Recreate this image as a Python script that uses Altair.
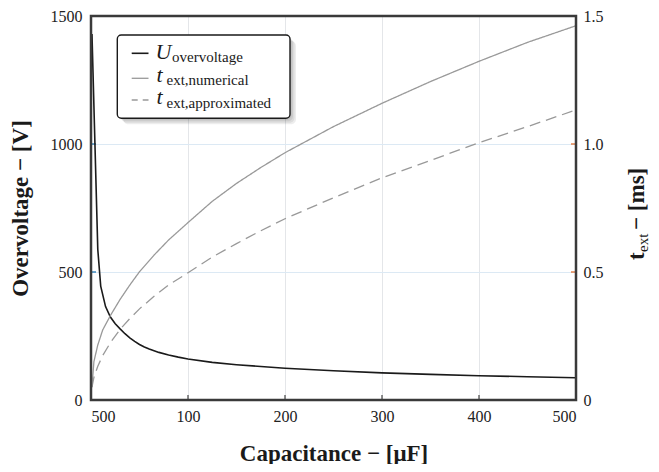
import altair as alt
import pandas as pd

# ---- data ----
cap_u = [1, 7, 10, 15, 20, 25, 30, 35, 40, 45, 50, 55, 60, 70, 80, 90, 100, 125, 150, 200, 250,
         300, 350, 400, 450, 500]
u_over = [1430, 588, 445, 365, 324, 298, 278, 259, 243, 229, 217, 207, 199, 186, 176, 167.5, 160,
          147, 138, 124, 114, 106, 100, 95, 91, 87]

cap_t = [1, 3, 7, 12, 20, 30, 40, 50, 65, 80, 100, 125, 150, 175, 200, 250, 300, 350, 400, 450, 500]
t_num = [0.05, 0.15, 0.215, 0.273, 0.33, 0.393, 0.449, 0.501, 0.566, 0.625, 0.693, 0.776, 0.846,
         0.908, 0.966, 1.068, 1.159, 1.244, 1.323, 1.397, 1.462]
t_app = [0.05, 0.088, 0.132, 0.173, 0.224, 0.276, 0.318, 0.356, 0.405, 0.449, 0.497, 0.558, 0.611,
         0.661, 0.708, 0.79, 0.868, 0.936, 1.005, 1.068, 1.133]

x_ticks = [0, 100, 200, 300, 400, 500]
u_ticks = [0, 500, 1000, 1500]
t_ticks = [0, 0.5, 1.0, 1.5]

W, H = 485, 384
FONT = "Liberation Serif"
INK = "#1a1a1a"

df_u = pd.DataFrame({"C": cap_u, "U": u_over})
df_t = pd.concat([
    pd.DataFrame({"C": cap_t, "t": t_num, "s": "num"}),
    pd.DataFrame({"C": cap_t, "t": t_app, "s": "app"}),
])
dummy = pd.DataFrame({"k": [0]})

xscale = alt.Scale(domain=[0, 500], nice=False, zero=False)
uscale = alt.Scale(domain=[0, 1500], nice=False)
tscale = alt.Scale(domain=[0, 1.5], nice=False)

x_axis = alt.Axis(values=x_ticks, format="d",
                  labelExpr="datum.value == 0 ? '500' : datum.label",
                  title="Capacitance − [μF]", grid=True, gridColor="#e4e6e9", gridWidth=1,
                  ticks=False, domain=False, labelFont=FONT, labelFontSize=16, labelColor="#222",
                  labelPadding=8, titleFont=FONT, titleFontSize=23, titleFontWeight="bold",
                  titleColor=INK, titleX=242.5, titleY=60, titleBaseline="alphabetic",
                  titleAlign="center")
u_axis = alt.Axis(values=u_ticks, format="d", orient="left", title="Overvoltage − [V]",
                  grid=True, gridColor="#dce9f4", gridWidth=1, ticks=False, domain=False,
                  labelFont=FONT, labelFontSize=16, labelColor="#222", labelPadding=9,
                  titleFont=FONT, titleFontSize=23, titleFontWeight="bold", titleColor=INK,
                  titleAngle=270, titleX=-64, titleY=192, titleBaseline="alphabetic",
                  titleAlign="center")
t_axis = alt.Axis(values=t_ticks, orient="right", title=None, grid=False, ticks=False,
                  domain=False, labelExpr="datum.value == 0 ? '0' : format(datum.value, '.1f')",
                  labelFont=FONT, labelFontSize=16, labelColor="#222", labelPadding=7)

X = alt.X("C:Q", scale=xscale, axis=x_axis)

# ---- left (voltage) layer ----
line_u = alt.Chart(df_u).mark_line(color=INK, strokeWidth=1.6).encode(
    x=X, y=alt.Y("U:Q", scale=uscale, axis=u_axis))
ticks_u = alt.Chart(pd.DataFrame({"U": u_ticks[1:-1]})).mark_rule(color="#1f77b4", strokeWidth=1.3).encode(
    y=alt.Y("U:Q", scale=uscale, axis=u_axis), x=alt.value(0), x2=alt.value(5))
ticks_x = alt.Chart(pd.DataFrame({"C": x_ticks[1:-1]})).mark_rule(color="#444", strokeWidth=1.2).encode(
    x=X, y=alt.value(H - 5), y2=alt.value(H))
layer_a = alt.layer(ticks_x, ticks_u, line_u)

# ---- right (time) layer ----
lines_t = alt.Chart(df_t).mark_line(color="#999999", strokeWidth=1.3).encode(
    x=X, y=alt.Y("t:Q", scale=tscale, axis=t_axis),
    strokeDash=alt.StrokeDash("s:N", scale=alt.Scale(domain=["num", "app"], range=[[1, 0], [11, 6]]),
                              legend=None))
ticks_t = alt.Chart(pd.DataFrame({"t": t_ticks[1:-1]})).mark_rule(color="#e07030", strokeWidth=1.3).encode(
    y=alt.Y("t:Q", scale=tscale, axis=t_axis), x=alt.value(W - 5), x2=alt.value(W))

# ---- legend (drawn by hand for the subscripts) ----
bx0, bx1, by0, by1 = 26.3, 199, 19, 102.3
base = alt.Chart(dummy)
shadows = [
    base.mark_rect(color="#000", opacity=0.07, cornerRadius=5).encode(
        x=alt.value(bx0 + d), x2=alt.value(bx1 + d), y=alt.value(by0 + d), y2=alt.value(by1 + d))
    for d in (1.5, 3, 4.5, 6)
]
box = base.mark_rect(fill="white", stroke=INK, strokeWidth=1.4, cornerRadius=4).encode(
    x=alt.value(bx0), x2=alt.value(bx1), y=alt.value(by0), y2=alt.value(by1))
s1 = base.mark_rule(color=INK, strokeWidth=1.6).encode(x=alt.value(40.7), x2=alt.value(57.5), y=alt.value(37.3))
s2 = base.mark_rule(color="#999999", strokeWidth=1.3).encode(x=alt.value(40.7), x2=alt.value(57.5), y=alt.value(62.3))
s3 = base.mark_rule(color="#999999", strokeWidth=1.3, strokeDash=[6, 5]).encode(
    x=alt.value(40.7), x2=alt.value(57.5), y=alt.value(84))


def txt(s, x, y, size, style="normal", weight="normal", angle=0):
    return base.mark_text(text=s, font=FONT, fontSize=size, fontStyle=style, fontWeight=weight,
                          align="left", baseline="alphabetic", color=INK, angle=angle).encode(
        x=alt.value(x), y=alt.value(y))


leg_txt = [
    txt("U", 64.5, 42.5, 22, style="italic"),
    txt("overvoltage", 81, 46, 15),
    txt("t", 65.5, 65.7, 22, style="italic"),
    txt("ext,numerical", 75.5, 69, 15),
    txt("t", 65.5, 88, 22, style="italic"),
    txt("ext,approximated", 75.5, 91.5, 15),
]

# right axis title t_ext − [ms]
rt = [
    txt("t", 553, 244, 23, weight="bold", angle=270),
    txt("ext", 557, 236, 15, angle=270),
    txt(" − [ms]", 553, 214, 23, weight="bold", angle=270),
]

frame = base.mark_rect(filled=False, stroke="#3a3a3a", strokeWidth=2.5).encode(
    x=alt.value(0), x2=alt.value(W), y=alt.value(0), y2=alt.value(H))

layer_b = alt.layer(ticks_t, lines_t, *shadows, box, s1, s2, s3, *leg_txt, *rt, frame)

chart = alt.layer(layer_a, layer_b).resolve_scale(y="independent").properties(
    width=W, height=H,
    autosize=alt.AutoSizeParams(type="none"),
    padding={"left": 83, "top": 8, "right": 75, "bottom": 64},
).configure_view(stroke=None).configure(background="white")

chart.save("out.html", embed_options={"renderer": "svg", "actions": False})
